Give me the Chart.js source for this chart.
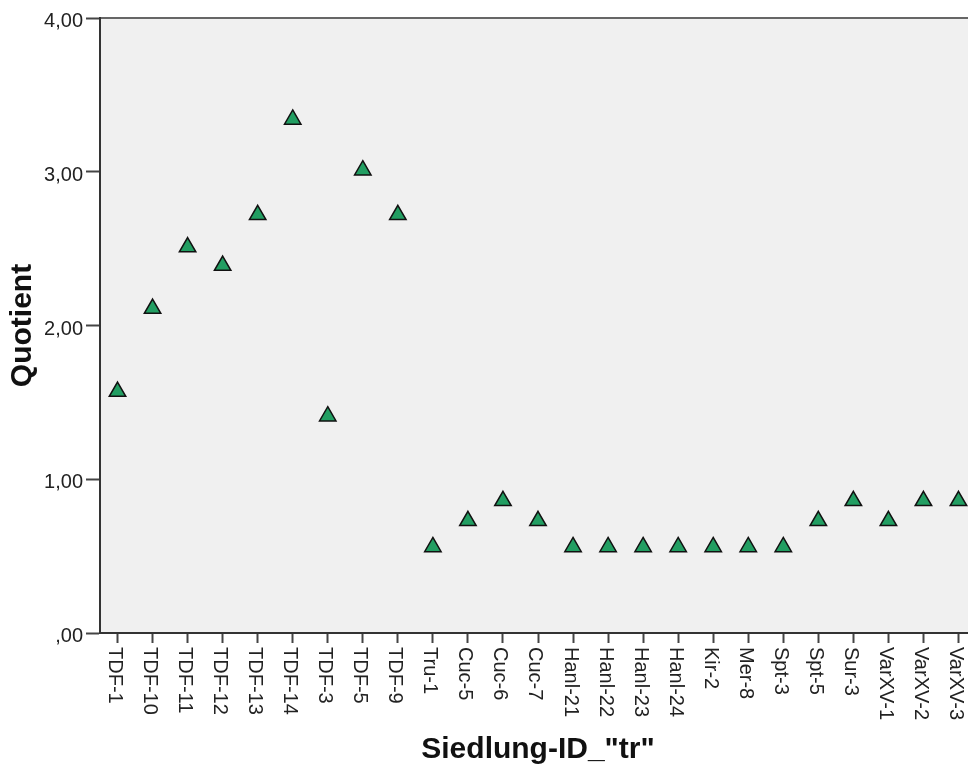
<!DOCTYPE html>
<html>
<head>
<meta charset="utf-8">
<title>Quotient je Siedlung</title>
<script src="https://cdn.jsdelivr.net/npm/chart.js@4.4.1/dist/chart.umd.min.js"></script>
<style>
    html, body { margin: 0; padding: 0; background: #fff; overflow: hidden; }
    #quotientChart { display: block; }
</style>
</head>
<body>
<canvas id="quotientChart" width="976" height="778"></canvas>
<script>
const categories = ['TDF-1', 'TDF-10', 'TDF-11', 'TDF-12', 'TDF-13', 'TDF-14', 'TDF-3', 'TDF-5', 'TDF-9',
    'Tru-1', 'Cuc-5', 'Cuc-6', 'Cuc-7', 'Hanl-21', 'Hanl-22', 'Hanl-23', 'Hanl-24', 'Kir-2', 'Mer-8',
    'Spt-3', 'Spt-5', 'Sur-3', 'VarXV-1', 'VarXV-2', 'VarXV-3'];
const quotient = [1.57, 2.11, 2.51, 2.39, 2.72, 3.34, 1.41, 3.01, 2.72,
    0.56, 0.73, 0.86, 0.73, 0.56, 0.56, 0.56, 0.56, 0.56, 0.56,
    0.56, 0.73, 0.86, 0.73, 0.86, 0.86];
const yTickLabels = [',00', '1,00', '2,00', '3,00', '4,00'];

const FONT = "'Liberation Sans', Arial, sans-serif";

// grauer Hintergrund + obere Rahmenlinie
const plotFrame = {
    id: 'plotFrame',
    beforeDraw(chart) {
        const { ctx, chartArea } = chart;
        ctx.save();
        ctx.fillStyle = '#f0f0f0';
        ctx.fillRect(chartArea.left, chartArea.top, chartArea.right - chartArea.left, chartArea.bottom - chartArea.top);
        ctx.strokeStyle = '#666';
        ctx.lineWidth = 2;
        ctx.beginPath();
        ctx.moveTo(chartArea.left, chartArea.top);
        ctx.lineTo(chartArea.right, chartArea.top);
        ctx.stroke();
        ctx.restore();
    }
};

// x-Beschriftungen von oben nach unten gedreht
const verticalLabels = {
    id: 'verticalLabels',
    afterDraw(chart) {
        const { ctx, chartArea } = chart;
        const xScale = chart.scales.x;
        ctx.save();
        ctx.font = '20px ' + FONT;
        ctx.fillStyle = '#222';
        ctx.textAlign = 'left';
        ctx.textBaseline = 'middle';
        xScale.ticks.forEach((t, i) => {
            const x = xScale.getPixelForTick(i);
            ctx.save();
            ctx.translate(x - 3, chartArea.bottom + 14);
            ctx.rotate(Math.PI / 2);
            ctx.fillText(categories[i], 0, 0);
            ctx.restore();
        });
        ctx.restore();
    }
};

const ctx = document.getElementById('quotientChart').getContext('2d');

new Chart(ctx, {
    type: 'line',
    data: {
        labels: categories,
        datasets: [{
            label: 'Quotient',
            data: quotient,
            showLine: false,
            pointStyle: 'triangle',
            pointRadius: 9.5,
            pointBorderWidth: 1.5,
            pointBackgroundColor: '#229e62',
            pointBorderColor: '#111'
        }]
    },
    options: {
        responsive: false,
        animation: false,
        devicePixelRatio: 1,
        events: [],
        layout: { autoPadding: false, padding: { top: 18, right: 0, bottom: 0, left: 0 } },
        plugins: {
            legend: { display: false },
            tooltip: { enabled: false }
        },
        scales: {
            x: {
                type: 'category',
                offset: true,
                afterFit: (scale) => { scale.height = 145; },
                grid: {
                    display: true,
                    offset: false,
                    drawOnChartArea: false,
                    tickLength: 10,
                    tickColor: '#444',
                    tickWidth: 2
                },
                border: { display: true, color: '#333', width: 2 },
                ticks: { display: false },
                title: {
                    display: true,
                    text: 'Siedlung-ID_"tr"',
                    color: '#111',
                    font: { family: FONT, size: 30, weight: 'bold' },
                    padding: { top: 0, bottom: 10 }
                }
            },
            y: {
                min: 0,
                max: 4,
                afterFit: (scale) => { scale.width = 100; },
                grid: {
                    display: true,
                    drawOnChartArea: false,
                    tickLength: 14,
                    tickColor: '#444',
                    tickWidth: 2
                },
                border: { display: true, color: '#333', width: 2 },
                ticks: {
                    stepSize: 1,
                    padding: 3,
                    labelOffset: 3.5,
                    color: '#222',
                    font: { family: FONT, size: 20 },
                    callback: (value, index) => yTickLabels[index]
                },
                title: {
                    display: true,
                    text: 'Quotient',
                    color: '#111',
                    font: { family: FONT, size: 30, weight: 'bold' },
                    padding: { top: 5, bottom: 0 }
                }
            }
        }
    },
    plugins: [plotFrame, verticalLabels]
});
</script>
</body>
</html>
